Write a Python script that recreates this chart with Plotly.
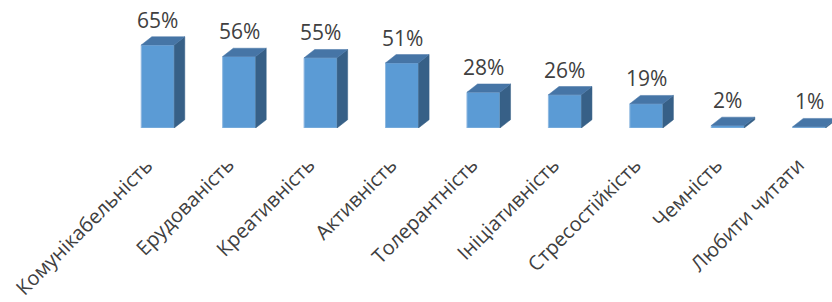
import plotly.graph_objects as go

categories = ["Комунікабельність", "Ерудованість", "Креативність", "Активність",
              "Толерантність", "Ініціативність", "Стресостійкість", "Чемність", "Любити читати"]
values = [65, 56, 55, 51, 28, 26, 19, 2, 1]
labels = [f"{v}%" for v in values]

FRONT = "#5B9BD5"
SIDE = "#376087"
TOP = "#4675A6"
EDGE = "#8FB8E0"
TEXT = "#404040"
FONT = "Open Sans"

W = 0.405   # bar front width (category units)
DX = 0.13   # depth offset x (category units)
DY = 6.5    # depth offset y (value units)

xs = list(range(len(categories)))
fig = go.Figure()

# side and top faces computed from data values
for i, v in zip(xs, values):
    r = i + W / 2
    l = i - W / 2
    fig.add_trace(go.Scatter(
        x=[r, r + DX, r + DX, r, r], y=[0, DY, v + DY, v, 0],
        mode="lines", fill="toself", fillcolor=SIDE, cliponaxis=False,
        line=dict(color=SIDE, width=0.5), hoverinfo="skip", showlegend=False))
    fig.add_trace(go.Scatter(
        x=[l, r, r + DX, l + DX, l], y=[v, v, v + DY, v + DY, v],
        mode="lines", fill="toself", fillcolor=TOP, cliponaxis=False,
        line=dict(color=TOP, width=0.5), hoverinfo="skip", showlegend=False))

fig.add_trace(go.Bar(
    x=xs, y=values, width=W, marker=dict(color=FRONT, line=dict(color=EDGE, width=1)),
    showlegend=False, hoverinfo="skip", cliponaxis=False))

annotations = []
for i, v, t in zip(xs, values, labels):
    annotations.append(dict(
        x=i, y=v + DY, xref="x", yref="y", text=t, showarrow=False,
        xanchor="center", yanchor="bottom", yshift=1,
        font=dict(family=FONT, size=21, color=TEXT)))
for i, c in zip(xs, categories):
    annotations.append(dict(
        x=i, y=0, xref="x", yref="y", text=c, showarrow=False, textangle=-45,
        xanchor="right", yanchor="top", xshift=3, yshift=-21,
        font=dict(family=FONT, size=20, color=TEXT)))

fig.update_layout(
    width=832, height=302,
    margin=dict(l=117, r=0, t=8, b=174, autoexpand=False),
    paper_bgcolor="white", plot_bgcolor="white",
    annotations=annotations,
    xaxis=dict(range=[-0.5, 8.28], showticklabels=False, showgrid=False, zeroline=False,
               showline=False, ticks="", automargin=False, fixedrange=True),
    yaxis=dict(range=[0, 94], visible=False, fixedrange=True, automargin=False),
)

fig.write_html("out.html", config={"displayModeBar": False},
               post_script="document.body.style.margin='0';")
